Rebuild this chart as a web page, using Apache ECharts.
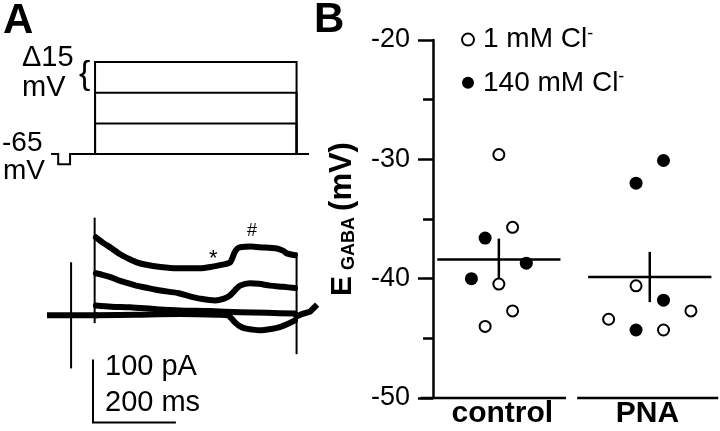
<!DOCTYPE html>
<html><head><meta charset="utf-8">
<script src="https://cdn.jsdelivr.net/npm/echarts@6/dist/echarts.min.js"></script>
<style>html,body{margin:0;padding:0;background:#fff}#c{width:720px;height:431px}</style>
</head><body><div id="c"></div>
<script>
// ---------- Panel A: voltage protocol (time ms, mV) ----------
const holdingMv = -65;
const stepLevelsMv = [-50, -35, -20];
const stepWindowMs = [0, 492];
const protocolBaseline = [[-105,-65],[-90,-65],[-90,-70],[-61,-70],[-61,-65],[520,-65]];

// ---------- Panel A: current traces (time ms, pA) ----------
const preStepCurrent = [[-110,0],[-30,0],[-1,0]];
const preSpike = [[-58.5,84],[-58.5,-84]];
const onsetTransient = [[-1,156],[-1,-11]];
const offsetTransient = [[492,100],[492,-61]];
const postStepCurrent = [[492,-2],[505,2],[525,6],[537,14]];
const trace1 = [[2,126],[20,117],[41,108],[60,99],[80,92],[100,86],[122,82],[160,78],[202,76],[256,76],[290,79],[305,81],[329,85],[335,92],[341,102],[348,108],[354,110],[380,111],[402,110],[444,108],[460,104],[468,100],[488,97]];
const trace2 = [[2,68],[20,65],[41,61],[60,56],[80,52],[100,48],[122,45],[160,40],[202,36],[230,31],[256,27],[293,24],[315,27],[329,32],[341,40],[354,48],[378,52],[400,51],[427,48],[460,46],[488,44]];
const trace3 = [[2,16],[40,14],[85,13],[150,10],[207,8],[280,7],[354,5],[420,4],[488,3]];
const trace4 = [[2,0],[100,1],[207,2],[300,1],[324,0],[333,-5],[341,-11],[352,-17],[366,-21],[385,-23],[402,-24],[430,-22],[451,-19],[470,-14],[488,-8]];
const scaleBarMs = 200;
const scaleBarPa = 100;
const scaleBarCorner = [-5, -173];

// ---------- Panel B: E_GABA (mV) ----------
const groups = ['control', 'PNA'];
const groupCenters = [0, 11];
// [group index, jitter, E_GABA mV]
const lowCl = [[0,0,-29.6],[0,1,-35.7],[0,0,-40.45],[0,1,-42.7],[0,-1,-44.0],
               [1,-1,-40.6],[1,-3,-43.4],[1,3,-42.7],[1,1,-44.3]];
const highCl = [[0,-1,-36.6],[0,2,-38.7],[0,-2,-40.0],
                [1,1,-30.1],[1,-1,-32.0],[1,1,-41.8],[1,-1,-44.3]];
const groupMean = [-38.4, -39.86];
const groupSem = [1.65, 2.0];
const meanHalfWidth = 4.4;
const yTicksB = [-50, -20, 10];   // min, max, interval
const baseSegments = [[-5.6, 4.8], [5.8, 15.9]];

const FF = '"Liberation Sans", Arial, sans-serif';
const K = '#000';

const chart = echarts.init(document.getElementById('c'), null, {renderer: 'canvas'});

function seg(coords, xi, width) {
  return {type:'lines', coordinateSystem:'cartesian2d', xAxisIndex:xi, yAxisIndex:xi,
    polyline:true, silent:true, clip:false, animation:false,
    lineStyle:{color:K, width:width, opacity:1, curveness:0, cap:'square', join:'miter'},
    data: coords.map(c => ({coords: c}))};
}
function trace(data, width) {
  return {type:'line', xAxisIndex:1, yAxisIndex:1, data:data, showSymbol:false, smooth:0.3,
    silent:true, clip:false, lineStyle:{color:K, width:width, join:'round', cap:'round'}};
}

const stepPolys = stepLevelsMv.map(v => [[stepWindowMs[0], holdingMv],[stepWindowMs[0], v],[stepWindowMs[1], v],[stepWindowMs[1], holdingMv]]);
const scaleBar = [[scaleBarCorner[0], scaleBarCorner[1] + scaleBarPa],[scaleBarCorner[0], scaleBarCorner[1]],[scaleBarCorner[0] + scaleBarMs, scaleBarCorner[1]]];

const toXY = arr => arr.map(d => [groupCenters[d[0]] + d[1], d[2]]);
const meanLines = groupMean.map((m, i) => [[groupCenters[i] - meanHalfWidth, m],[groupCenters[i] + meanHalfWidth, m]]);
const semLines = groupMean.map((m, i) => [[groupCenters[i], m + groupSem[i]],[groupCenters[i], m - groupSem[i]]]);
const baseLines = baseSegments.map(s => [[s[0], yTicksB[0]],[s[1], yTicksB[0]]]);

function txt(text, x, y, size, weight) {
  return {type:'text', x:x, y:y, silent:true,
    style:{text:text, fontSize:size, fontWeight:weight||'normal', fontFamily:FF, fill:K,
      align:'left', verticalAlign:'top', textAlign:'left', textVerticalAlign:'top'}};
}

const option = {
  animation:false,
  backgroundColor:'#fff',
  grid:[
    {left:50, width:265, top:49.8, height:120.6},
    {left:50, width:265, top:210, height:220},
    {left:433, width:284, top:40, height:358},
    {left:429.75, width:321, top:390, height:8}
  ],
  xAxis:[
    {gridIndex:0, type:'value', min:-110, max:537, show:false},
    {gridIndex:1, type:'value', min:-110, max:537, show:false},
    {gridIndex:2, type:'value', min:-4.8, max:15.9, show:false, axisLine:{onZero:false}},
    {gridIndex:3, type:'category', data:groups, axisLine:{show:false}, axisTick:{show:false},
      axisLabel:{fontSize:30, fontWeight:'bold', fontFamily:FF, color:K, margin:1}}
  ],
  yAxis:[
    {gridIndex:0, type:'value', min:-73, max:-14, show:false},
    {gridIndex:1, type:'value', min:-185, max:170, show:false},
    {gridIndex:2, type:'value', min:yTicksB[0], max:yTicksB[1], interval:yTicksB[2], position:'left',
      axisLine:{show:true, onZero:false, lineStyle:{color:K, width:2.5}},
      axisTick:{show:true, length:15, lineStyle:{color:K, width:2.5}},
      minorTick:{show:true, splitNumber:2, length:10, lineStyle:{color:K, width:2.5}},
      splitLine:{show:false},
      axisLabel:{fontSize:27, fontFamily:FF, color:K, margin:23},
      name:'{e|E}{s|GABA}{m|(mV)}', nameLocation:'middle', nameRotate:90, nameGap:75,
      nameTextStyle:{fontFamily:FF, color:K, rich:{
        e:{fontSize:30, fontWeight:'bold', fontFamily:FF, color:K, padding:[0,6,0,0]},
        s:{fontSize:18, fontWeight:'bold', fontFamily:FF, color:K, verticalAlign:'bottom', padding:[0,6,0,0]},
        m:{fontSize:31, fontWeight:'bold', fontFamily:FF, color:K}
      }}},
    {gridIndex:3, type:'value', show:false}
  ],
  legend:{
    data:['1 mM Cl','140 mM Cl'], orient:'vertical', left:456, top:19.6,
    itemWidth:12, itemHeight:12, itemGap:13.2, icon:'circle', selectedMode:false,
    textStyle:{fontSize:28, fontFamily:FF, color:K, lineHeight:30, padding:[0,0,0,4],
      rich:{sup:{fontSize:18, fontFamily:FF, color:K, lineHeight:18, verticalAlign:'top'}}},
    formatter: n => n + '{sup|-}'
  },
  graphic:[
    txt('A', 3, 0.4, 42, 'bold'),
    txt('B', 314, -0.6, 42, 'bold'),
    txt('\u039415', 22, 43.5, 29),
    txt('mV', 22, 73.5, 29),
    txt('{', 79, 58, 34),
    txt('-65', 2, 129.3, 28),
    txt('mV', 3, 157, 28),
    txt('100 pA', 105, 352.5, 29),
    txt('200 ms', 105, 388.5, 29),
    txt('*', 209, 248, 22),
    txt('#', 247, 222, 18)
  ],
  series:[
    seg([protocolBaseline].concat(stepPolys), 0, 2),
    seg([preStepCurrent, postStepCurrent], 1, 6),
    seg([preSpike, onsetTransient, offsetTransient], 1, 2),
    seg([scaleBar], 1, 2),
    trace(trace1, 6), trace(trace2, 6), trace(trace3, 6), trace(trace4, 6),
    seg(meanLines.concat(semLines), 2, 2.5),
    seg(baseLines, 2, 2.5),
    {name:'1 mM Cl', type:'scatter', xAxisIndex:2, yAxisIndex:2, data:toXY(lowCl), symbol:'circle', symbolSize:11, z:5,
      itemStyle:{color:'#fff', borderColor:K, borderWidth:2, opacity:1}},
    {name:'140 mM Cl', type:'scatter', xAxisIndex:2, yAxisIndex:2, data:toXY(highCl), symbol:'circle', symbolSize:13, z:5,
      itemStyle:{color:K, opacity:1}}
  ]
};
chart.setOption(option);
</script></body></html>
